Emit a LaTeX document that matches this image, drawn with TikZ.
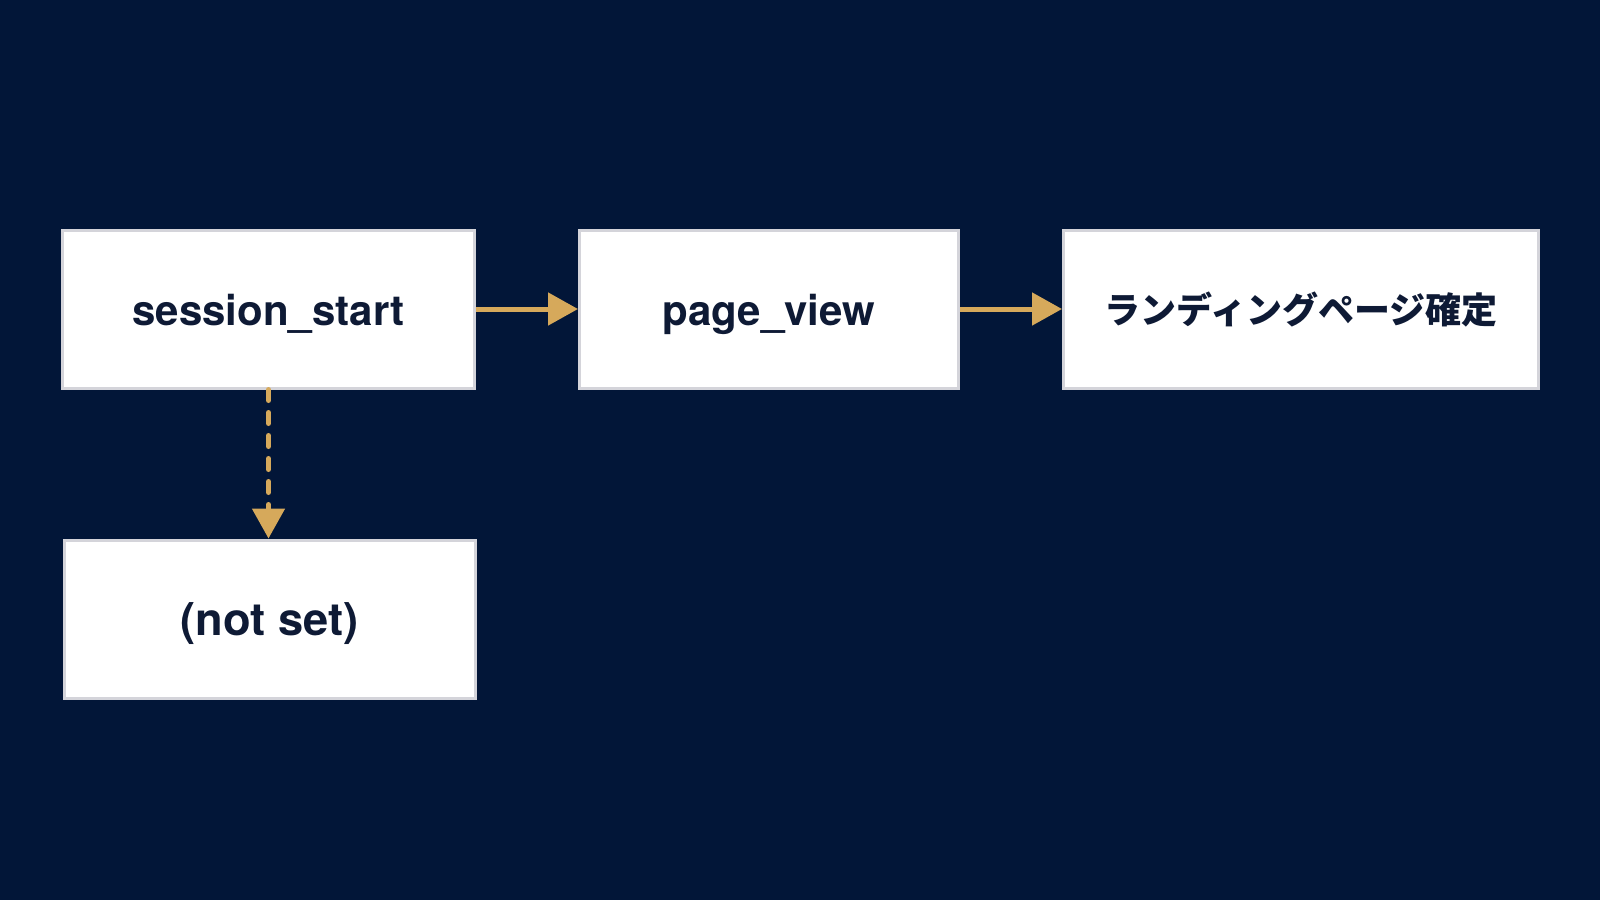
\documentclass[tikz,border=0pt]{standalone}
\usepackage{fontspec}
\usetikzlibrary{arrows.meta}
\newfontfamily\heros{TeX Gyre Heros}
\newfontfamily\cjk{Noto Sans CJK JP}
\definecolor{bgnavy}{HTML}{021638}
\definecolor{txtnavy}{HTML}{0E1A35}
\definecolor{gold}{HTML}{D6A95B}
\definecolor{boxline}{HTML}{D4D4DA}
\tikzset{
  evbox/.style={draw=boxline, line width=1.5pt, fill=white, rectangle,
    minimum height=79pt, inner sep=0pt, text=txtnavy,
    text height=16pt, text depth=0pt,
    font=\heros\bfseries\fontsize{21}{25}\selectfont},
  flowarrow/.style={draw=gold, line width=2.5pt, -{Triangle[length=15pt,width=16pt]}},
  dasharrow/.style={flowarrow, dash pattern=on 5.5pt off 6pt, line cap=round}
}
\begin{document}
\begin{tikzpicture}[x=0.5pt,y=-0.5pt]
\fill[bgnavy] (0,0) rectangle (1600,900);
\useasboundingbox (0,0) rectangle (1600,900);
\node[evbox, minimum width=206pt] (ss) at (268.5,309) {session\_start};
\node[evbox, minimum width=189.5pt] (pv) at (769,309) {page\_view};
\node[evbox, minimum width=237.5pt, text height=14pt, font=\cjk\bfseries\fontsize{18}{21}\selectfont] (lp) at (1301,309) {ランディングページ確定};
\node[evbox, minimum width=205.5pt, font=\heros\bfseries\fontsize{22.6}{26}\selectfont] (ns) at (269.5,619) {(not set)};
\draw[flowarrow] (ss.east) -- (pv.west);
\draw[flowarrow] (pv.east) -- (lp.west);
\draw[dasharrow] (ss.south) -- (ss.south |- ns.north);
\end{tikzpicture}
\end{document}
